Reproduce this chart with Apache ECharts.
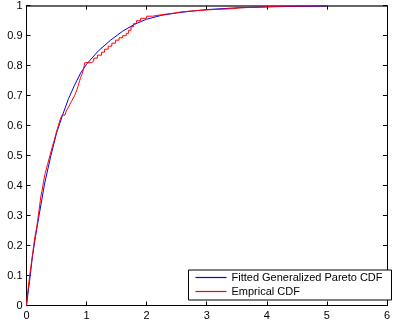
<!DOCTYPE html>
<html>
<head>
<meta charset="utf-8">
<script src="https://cdn.jsdelivr.net/npm/echarts@6/dist/echarts.min.js"></script>
<style>
html,body{margin:0;padding:0;background:#fff;}
#chart{width:393px;height:331px;}
</style>
</head>
<body>
<div id="chart"></div>
<script>
var xTicks = ['0','1','2','3','4','5','6'];
var yTicks = ['0','0.1','0.2','0.3','0.4','0.5','0.6','0.7','0.8','0.9','1'];
var seriesNames = ['Fitted Generalized Pareto CDF', 'Emprical CDF'];

var fitX = [0, 0.05, 0.1, 0.15, 0.2, 0.3, 0.4, 0.5, 0.6, 0.7, 0.8, 0.9, 1.0, 1.2, 1.4, 1.6, 1.8, 2.0, 2.25, 2.5, 2.75, 3.0, 3.5, 4.0, 4.5, 5.0];
var fitY = [0, 0.08, 0.165, 0.23, 0.29, 0.405, 0.495, 0.575, 0.635, 0.69, 0.735, 0.775, 0.805, 0.85, 0.885, 0.915, 0.938, 0.955, 0.968, 0.976, 0.982, 0.987, 0.993, 0.996, 0.998, 0.999];

var empX = [0, 0.01, 0.02, 0.03, 0.04, 0.05, 0.06, 0.07, 0.08, 0.09, 0.10, 0.11, 0.12, 0.13, 0.14, 0.155, 0.17, 0.18, 0.19, 0.20, 0.21, 0.22, 0.23, 0.24, 0.255, 0.27, 0.28, 0.295, 0.31, 0.33, 0.35, 0.37, 0.39, 0.41, 0.43, 0.445, 0.46, 0.48, 0.50, 0.515, 0.53, 0.545, 0.56, 0.59, 0.64, 0.66, 0.68, 0.70, 0.72, 0.74, 0.76, 0.78, 0.80, 0.82, 0.84, 0.855, 0.87, 0.885, 0.90, 0.915, 0.93, 0.95, 0.96, 0.97, 1.08, 1.12, 1.18, 1.25, 1.30, 1.36, 1.42, 1.48, 1.54, 1.60, 1.66, 1.70, 1.74, 1.78, 1.83, 1.90, 2.00, 2.10, 2.25, 2.45, 2.60, 2.80, 3.00, 3.20, 3.43, 3.56, 4.00, 4.10, 5.00];
var empY = [0, 0.03, 0.045, 0.06, 0.08, 0.095, 0.11, 0.125, 0.14, 0.155, 0.17, 0.185, 0.20, 0.215, 0.23, 0.245, 0.26, 0.275, 0.29, 0.305, 0.32, 0.335, 0.35, 0.365, 0.38, 0.395, 0.41, 0.425, 0.44, 0.455, 0.47, 0.485, 0.50, 0.515, 0.53, 0.54, 0.55, 0.565, 0.58, 0.59, 0.60, 0.61, 0.62, 0.635, 0.64, 0.648, 0.655, 0.662, 0.67, 0.678, 0.685, 0.692, 0.70, 0.71, 0.72, 0.73, 0.74, 0.75, 0.76, 0.768, 0.775, 0.79, 0.80, 0.81, 0.815, 0.825, 0.835, 0.845, 0.855, 0.865, 0.875, 0.885, 0.893, 0.90, 0.908, 0.918, 0.930, 0.940, 0.950, 0.958, 0.965, 0.970, 0.975, 0.980, 0.983, 0.986, 0.988, 0.990, 0.993, 0.996, 0.998, 1.0, 1.0];

function pairs(xs, ys){ return xs.map(function(x,i){ return [x, ys[i]]; }); }

var font = 'Liberation Sans, Arial, sans-serif';
var chart = echarts.init(document.getElementById('chart'), null, {renderer:'canvas'});
var axLine = {show:true, onZero:false, lineStyle:{color:'#000', width:1}};
var axTick = {show:true, inside:true, length:4, lineStyle:{color:'#000', width:1}};
var lineIcon = 'path://M0,0L31,0L31,1.2L0,1.2Z';
chart.setOption({
  backgroundColor:'#fff',
  animation:false,
  grid:{left:26.5, right:1.5, top:5.7, bottom:25.5, containLabel:false},
  xAxis:[
    {type:'value', position:'bottom', min:0, max:6, interval:1, axisLine:axLine, axisTick:axTick,
     splitLine:{show:false},
     axisLabel:{show:true, margin:5, color:'#000', fontSize:11, fontFamily:font,
       formatter:function(v){ return xTicks[Math.round(v)]; }}},
    {type:'value', position:'top', min:0, max:6, interval:1,
     axisLine:{show:true, onZero:false, lineStyle:{color:'#333', width:1.5}}, axisTick:axTick,
     splitLine:{show:false}, axisLabel:{show:false}}
  ],
  yAxis:[
    {type:'value', position:'left', min:0, max:1, interval:0.1, axisLine:axLine, axisTick:axTick,
     splitLine:{show:false},
     axisLabel:{show:true, margin:4, color:'#000', fontSize:11, fontFamily:font,
       formatter:function(v){ return yTicks[Math.round(v*10)]; }}},
    {type:'value', position:'right', min:0, max:1, interval:0.1, axisLine:axLine, axisTick:axTick,
     splitLine:{show:false}, axisLabel:{show:false}}
  ],
  legend:{
    orient:'vertical', right:1.5, bottom:31,
    data:[{name:seriesNames[0], icon:lineIcon}, {name:seriesNames[1], icon:lineIcon}],
    symbolKeepAspect:true,
    backgroundColor:'#fff', borderColor:'#000', borderWidth:1,
    padding:[2,9,3,7], itemGap:3, itemWidth:31, itemHeight:14,
    textStyle:{color:'#000', fontSize:11, fontFamily:font}
  },
  series:[
    {name:seriesNames[0], type:'line', data:pairs(fitX, fitY), symbol:'none', smooth:false,
     lineStyle:{color:'#0000ff', width:1}, itemStyle:{color:'#0000ff'}},
    {name:seriesNames[1], type:'line', step:'end', data:pairs(empX, empY), symbol:'none',
     lineStyle:{color:'#ff0000', width:1}, itemStyle:{color:'#ff0000'}}
  ]
});
</script>
</body>
</html>
